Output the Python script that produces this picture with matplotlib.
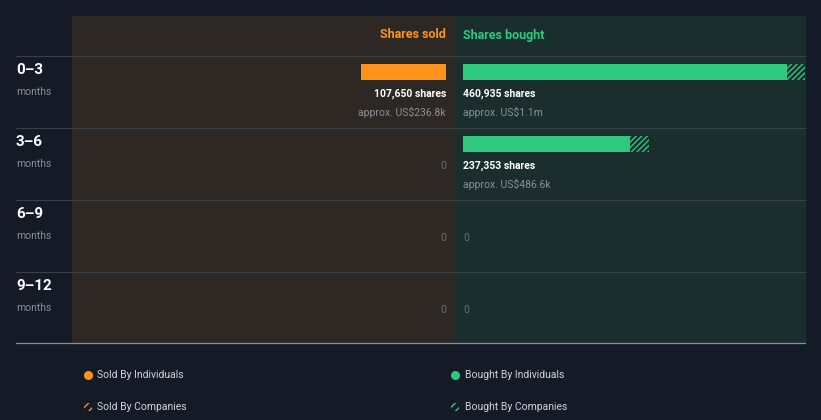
import matplotlib
matplotlib.use("Agg")
import matplotlib.pyplot as plt
from matplotlib.patches import Rectangle

plt.rcParams['font.family'] = ['Roboto', 'DejaVu Sans']

periods = ["0–3", "3–6", "6–9", "9–12"]
sold_ind = [107650, 0, 0, 0]
sold_comp = [0, 0, 0, 0]
bought_ind = [460935, 237353, 0, 0]
bought_comp = [29000, 27000, 0, 0]
sold_usd = ["US$236.8k", "", "", ""]
bought_usd = ["US$1.1m", "US$486.6k", "", ""]

W, H = 821, 420
BG = "#151b26"; LEFT = "#2d2823"; RIGHT = "#1a2e2e"
ORANGE = "#fd931a"; GREEN = "#2ec97e"; GRAY = "#8a8f96"

fig = plt.figure(figsize=(W/100, H/100), dpi=100, facecolor=BG)
ax = fig.add_axes([0, 0, 1, 1]); ax.set_xlim(0, W); ax.set_ylim(H, 0); ax.axis("off")
ax.add_patch(Rectangle((72, 16), 383, 327, color=LEFT, zorder=0))
ax.add_patch(Rectangle((455, 16), 350, 327, color=RIGHT, zorder=0))
for y in [56, 128, 200, 272]:
    ax.plot([16, 805], [y, y], color="#3a4049", lw=0.8, zorder=1)
ax.plot([16, 805], [343, 343], color="#8a8f96", lw=0.9, zorder=1)
ax.text(446, 35, "Shares sold", color=ORANGE, fontsize=9, fontweight="bold", ha="right", va="center")
ax.text(463, 35, "Shares bought", color=GREEN, fontsize=9, fontweight="bold", ha="left", va="center")

def bar_axes(x0, x1, xmax, invert):
    a = fig.add_axes([x0/W, 1-343/H, (x1-x0)/W, (343-56)/H])
    a.set_xlim((xmax, 0) if invert else (0, xmax)); a.set_ylim(4, 0); a.axis("off")
    a.patch.set_alpha(0)
    return a

axl = bar_axes(72, 446, 473660, True)
axr = bar_axes(463, 805, 486000, False)
hh = 16/72
for i, p in enumerate(periods):
    top = 56 + 72*i
    ax.text(16, top+14, p, color="white", fontsize=11, fontweight="bold", va="center")
    ax.text(16, top+36, "months", color=GRAY, fontsize=7.5, va="center")
    yc = i + 16/72
    if sold_ind[i] > 0:
        axl.barh(yc, sold_ind[i], height=hh, color=ORANGE, align="center")
        ax.text(446, top+38, f"{sold_ind[i]:,} shares", color="white", fontsize=7.5, fontweight="bold", ha="right", va="center")
        ax.text(446, top+56, f"approx. {sold_usd[i]}", color=GRAY, fontsize=7.5, ha="right", va="center")
    else:
        ax.text(446, top+38, "0", color="#6b7078", fontsize=7.5, ha="right", va="center")
    if bought_ind[i] > 0:
        axr.barh(yc, bought_ind[i], height=hh, color=GREEN, align="center")
        axr.barh(yc, bought_comp[i], left=bought_ind[i], height=hh, color=RIGHT,
                 edgecolor=GREEN, hatch="//////", lw=0, align="center")
        ax.text(463, top+38, f"{bought_ind[i]:,} shares", color="white", fontsize=7.5, fontweight="bold", ha="left", va="center")
        ax.text(463, top+56, f"approx. {bought_usd[i]}", color=GRAY, fontsize=7.5, ha="left", va="center")
    else:
        ax.text(463, top+38, "0", color="#6b7078", fontsize=7.5, ha="left", va="center")

ax.scatter([88], [375], s=30, color=ORANGE)
ax.scatter([455], [375], s=30, color=GREEN)
ax.add_patch(Rectangle((84, 403), 8, 8, facecolor="none", edgecolor=ORANGE, hatch="////", lw=0))
ax.add_patch(Rectangle((451, 403), 8, 8, facecolor="none", edgecolor=GREEN, hatch="////", lw=0))
for x, y, t in [(97, 375, "Sold By Individuals"), (465, 375, "Bought By Individuals"),
                (97, 407, "Sold By Companies"), (465, 407, "Bought By Companies")]:
    ax.text(x, y, t, color="#d0d3d8", fontsize=7.5, va="center")

fig.savefig("out.png", dpi=100, facecolor=BG)
